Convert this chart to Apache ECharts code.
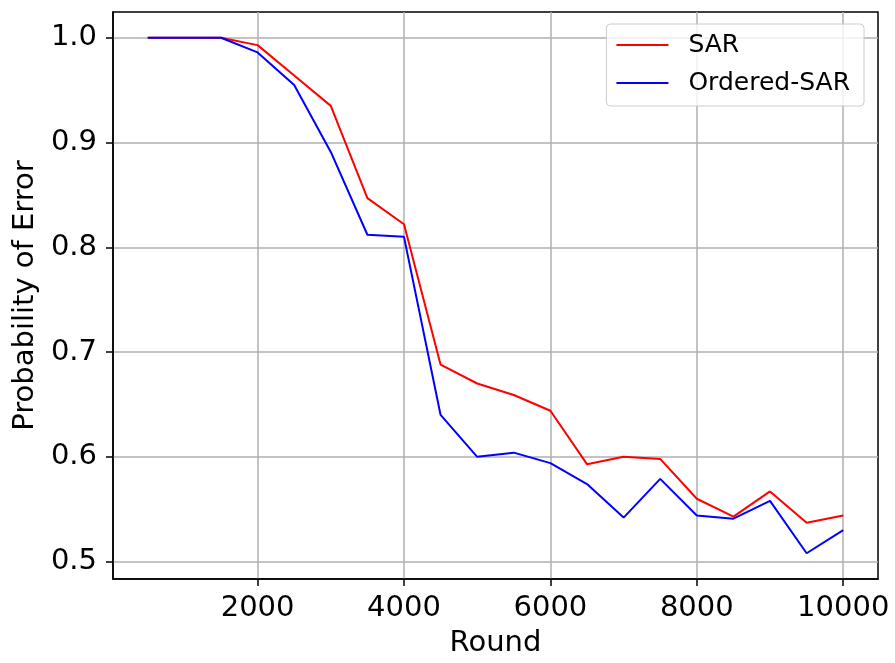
<!DOCTYPE html>
<html>
<head>
<meta charset="utf-8">
<script src="https://cdn.jsdelivr.net/npm/echarts@6/dist/echarts.min.js"></script>
<style>
html,body{margin:0;padding:0;background:#fff;}
#chart{width:895px;height:663px;}
</style>
</head>
<body>
<div id="chart"></div>
<script>
const rounds = [500,1000,1500,2000,2500,3000,3500,4000,4500,5000,5500,6000,6500,7000,7500,8000,8500,9000,9500,10000];
const sar = [1.0,1.0,1.0,0.993,0.964,0.935,0.847,0.822,0.688,0.670,0.659,0.644,0.593,0.600,0.598,0.560,0.543,0.567,0.537,0.544];
const orderedSar = [1.0,1.0,1.0,0.986,0.955,0.891,0.812,0.810,0.640,0.600,0.604,0.594,0.574,0.542,0.579,0.544,0.541,0.558,0.508,0.530];
const xTicks = [2000,4000,6000,8000,10000];
const yTicks = [0.5,0.6,0.7,0.8,0.9,1.0];
const seriesNames = ['SAR','Ordered-SAR'];
const colors = ['#ff0000','#0000ff'];

const FONT = 'DejaVu Sans';
const chart = echarts.init(document.getElementById('chart'), null, {renderer:'canvas'});
const pair = (xs, ys) => xs.map((x,i)=>[x, ys[i]]);

chart.setOption({
  animation:false,
  backgroundColor:'#ffffff',
  grid:{left:113,right:17,top:12,bottom:83,show:true,borderColor:'#000',borderWidth:1.5,backgroundColor:'transparent'},
  legend:{
    orient:'vertical',right:31,top:24,
    padding:[2,14,4,10],
    itemGap:0,itemWidth:52,itemHeight:2,icon:'rect',
    backgroundColor:'rgba(255,255,255,0.8)',borderColor:'#cccccc',borderWidth:1,borderRadius:4,
    textStyle:{fontFamily:FONT,fontSize:25,color:'#000',lineHeight:38,padding:[0,0,0,15]},
    data:seriesNames
  },
  xAxis:{
    type:'value',min:25,max:10475,
    name:'Round',nameLocation:'middle',nameGap:50,
    nameTextStyle:{fontFamily:FONT,fontSize:29,color:'#000'},
    axisLine:{show:true,onZero:false,lineStyle:{color:'#000',width:1.5}},
    axisTick:{show:true,length:7,lineStyle:{color:'#000',width:1.5},customValues:xTicks},
    axisLabel:{fontFamily:FONT,fontSize:29,color:'#000',margin:15,customValues:xTicks,formatter:v=>String(v)},
    splitLine:{show:true,lineStyle:{color:'#b0b0b0',width:1.5}}
  },
  yAxis:{
    type:'value',min:0.4834,max:1.0246,
    name:'Probability of Error',nameLocation:'middle',nameGap:73,
    nameTextStyle:{fontFamily:FONT,fontSize:29,color:'#000'},
    axisLine:{show:true,onZero:false,lineStyle:{color:'#000',width:1.5}},
    axisTick:{show:true,length:7,lineStyle:{color:'#000',width:1.5},customValues:yTicks},
    axisLabel:{fontFamily:FONT,fontSize:29,color:'#000',margin:16,customValues:yTicks,formatter:v=>v.toFixed(1)},
    splitLine:{show:true,lineStyle:{color:'#b0b0b0',width:1.5}}
  },
  series:[
    {name:seriesNames[0],type:'line',data:pair(rounds,sar),symbol:'none',color:colors[0],lineStyle:{color:colors[0],width:2},z:3},
    {name:seriesNames[1],type:'line',data:pair(rounds,orderedSar),symbol:'none',color:colors[1],lineStyle:{color:colors[1],width:2},z:4}
  ]
});
</script>
</body>
</html>
